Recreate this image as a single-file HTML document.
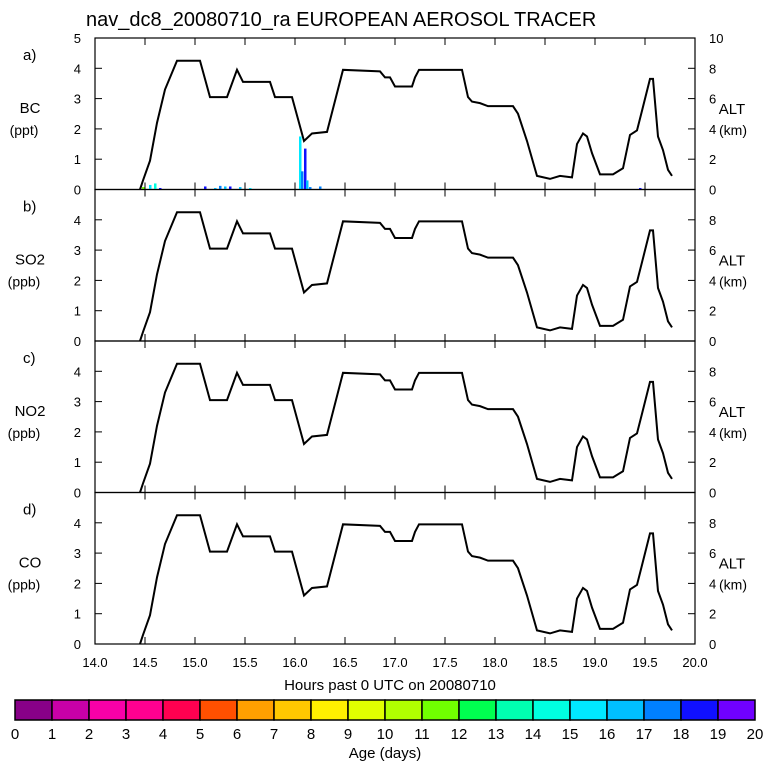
<!DOCTYPE html>
<html><head><meta charset="utf-8"><style>
body{margin:0;background:#fff;}
svg text{font-family:"Liberation Sans",sans-serif;fill:#000;}
</style></head><body>
<svg id="c" width="768" height="768" xmlns="http://www.w3.org/2000/svg">
<text x="86" y="26" font-size="20">nav_dc8_20080710_ra EUROPEAN AEROSOL TRACER</text>
<g id="panels"></g>
<text x="390" y="690" font-size="15" text-anchor="middle">Hours past 0 UTC on 20080710</text>
<g id="cbar"></g>
<text x="385" y="758" font-size="15" text-anchor="middle">Age (days)</text>
</svg>
<script>
const hours=[14.45,14.48,14.55,14.62,14.7,14.82,15.05,15.15,15.32,15.42,15.48,15.75,15.8,15.97,16.09,16.17,16.32,16.48,16.85,16.9,16.95,17.0,17.17,17.2,17.24,17.67,17.73,17.77,17.85,17.93,18.18,18.23,18.32,18.42,18.55,18.65,18.77,18.82,18.88,18.92,18.97,19.05,19.18,19.28,19.35,19.42,19.47,19.55,19.58,19.63,19.68,19.73,19.77];
const altKm=[0,0.6,1.9,4.4,6.6,8.5,8.5,6.1,6.1,7.9,7.1,7.1,6.1,6.1,3.2,3.7,3.8,7.9,7.8,7.4,7.4,6.8,6.8,7.4,7.9,7.9,6.1,5.8,5.7,5.5,5.5,5.0,3.2,0.9,0.7,0.9,0.8,3.0,3.7,3.5,2.4,1.0,1.0,1.4,3.6,3.9,5.2,7.3,7.3,3.5,2.6,1.3,0.9];
const bcHours=[14.48,14.55,14.6,14.65,15.1,15.2,15.25,15.3,15.35,15.45,15.55,16.05,16.07,16.1,16.12,16.15,16.25,19.45];
const bcVals=[0.08,0.15,0.2,0.05,0.1,0.05,0.12,0.1,0.1,0.08,0.05,1.75,0.6,1.35,0.3,0.08,0.1,0.05];
const bcAge=[11,15,14,18,18,16,17,16,18,16,15,15,17,18,16,17,17,18];
const panelLabels=["a)","b)","c)","d)"];
const species=["BC","SO2","NO2","CO"];
const units=["(ppt)","(ppb)","(ppb)","(ppb)"];
const xTicks=[14.0,14.5,15.0,15.5,16.0,16.5,17.0,17.5,18.0,18.5,19.0,19.5,20.0];
const leftTicks=[0,1,2,3,4,5];
const rightTicks=[0,2,4,6,8,10];
const ageColors=["#880088","#c800a8","#f800a8","#ff0090","#ff0050","#ff5000","#ffa000","#ffc800","#fff000","#e0ff00","#b0ff00","#70ff00","#00ff50","#00ffb0","#00ffe0","#00e8ff","#00c0ff","#0080ff","#1010ff","#7000ff"];
const ageLabels=[0,1,2,3,4,5,6,7,8,9,10,11,12,13,14,15,16,17,18,19,20];

const NS="http://www.w3.org/2000/svg";
const X0=95,X1=695,PT=[38,189.5,341,492.5],PH=151.5;
const xs=h=>X0+(h-14)/6*(X1-X0);
function mk(tag,attrs,parent,txt){const e=document.createElementNS(NS,tag);for(const k in attrs)e.setAttribute(k,attrs[k]);if(txt!==undefined)e.textContent=txt;parent.appendChild(e);return e;}
const G=document.getElementById('panels');
for(let p=0;p<4;p++){
  const top=PT[p],bot=top+PH;
  const ys=v=>bot-v/5*PH, ya=v=>bot-v/10*PH;
  const g=mk('g',{},G);
  
  
  const fr=mk('rect',{x:X0,y:top,width:X1-X0,height:PH,fill:'none',stroke:'#000','stroke-width':1.2},g);
  
  
  xTicks.forEach(h=>{mk('line',{x1:xs(h),x2:xs(h),y1:top,y2:top+7,stroke:'#000'},g);mk('line',{x1:xs(h),x2:xs(h),y1:bot,y2:bot-7,stroke:'#000'},g);});
  leftTicks.forEach(v=>{mk('line',{x1:X0,x2:X0+7,y1:ys(v),y2:ys(v),stroke:'#000'},g);
    if(p===0||v<5){const t=mk('text',{x:X0-14,y:ys(v)+5,'font-size':13,'text-anchor':'end'},g,String(v));}});
  rightTicks.forEach(v=>{mk('line',{x1:X1,x2:X1-7,y1:ya(v),y2:ya(v),stroke:'#000'},g);
    if(p===0||v<10){const t=mk('text',{x:X1+14,y:ya(v)+5,'font-size':13},g,String(v));}});
  let t=mk('text',{x:23,y:top+22,'font-size':15},g,panelLabels[p]);
  t=mk('text',{x:30,y:top+75,'font-size':15,'text-anchor':'middle'},g,species[p]);
  t=mk('text',{x:24,y:top+97,'font-size':14,'text-anchor':'middle'},g,units[p]);
  t=mk('text',{x:732,y:top+76,'font-size':15,'text-anchor':'middle'},g,'ALT');
  t=mk('text',{x:733,y:top+97,'font-size':14,'text-anchor':'middle'},g,'(km)');
  if(p===0){bcHours.forEach((h,i)=>{const b=mk('rect',{x:xs(h)-1,y:ys(bcVals[i]),width:2.5,height:bcVals[i]/5*PH,fill:ageColors[bcAge[i]]},g);});}
  const pl=mk('polyline',{points:hours.map((h,i)=>xs(h)+','+ya(altKm[i])).join(' '),fill:'none',stroke:'#000','stroke-width':2},g);
  
  
}
xTicks.forEach(h=>{const t=mk('text',{x:xs(h),y:667,'font-size':13,'text-anchor':'middle'},G,h.toFixed(1));});
const CB=document.getElementById('cbar');const cx0=15,cw=37;
ageColors.forEach((c,i)=>{const r=mk('rect',{x:cx0+i*cw,y:700,width:cw,height:20,fill:c,stroke:'#000','stroke-width':1.5},CB);});
ageLabels.forEach((v,i)=>{const t=mk('text',{x:cx0+i*cw,y:739,'font-size':15,'text-anchor':'middle'},CB,String(v));});
</script>
</body></html>
